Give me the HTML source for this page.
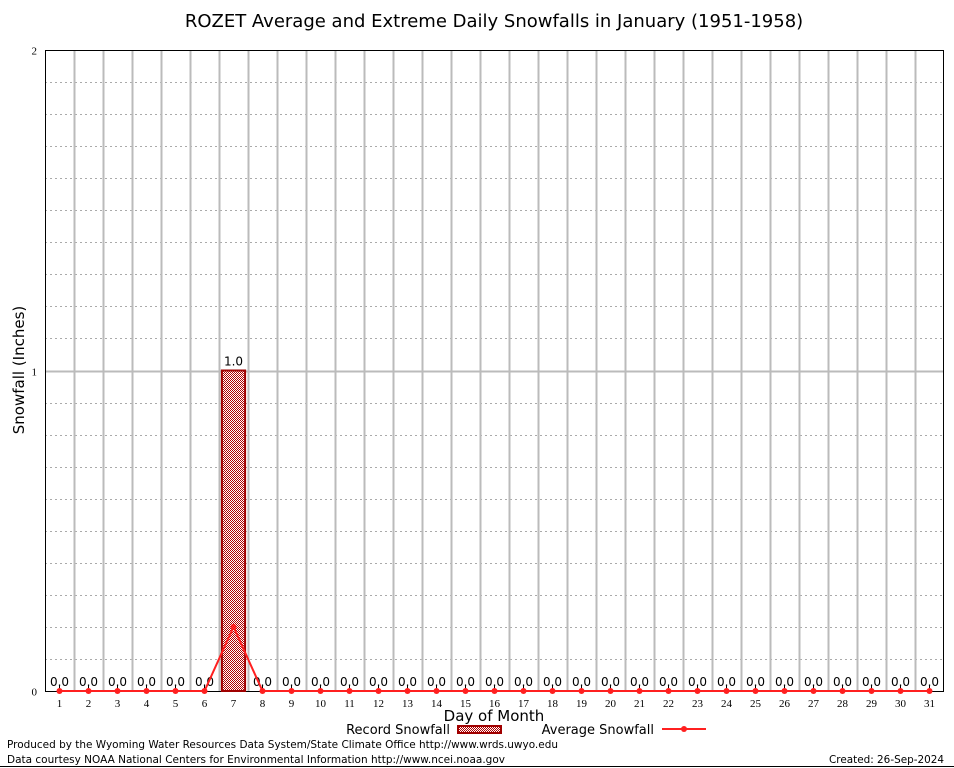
<!DOCTYPE html>
<html><head><meta charset="utf-8"><style>
body{margin:0;background:#fff;}
svg{display:block;font-family:"DejaVu Sans","Liberation Sans",sans-serif;}
</style></head><body>
<svg id="chart" width="954" height="768">
<defs>
<pattern id="chk" width="2" height="2" patternUnits="userSpaceOnUse">
<rect width="2" height="2" fill="#fff"/>
<rect width="1" height="1" fill="#b00000"/>
<rect x="1" y="1" width="1" height="1" fill="#b00000"/>
</pattern>
</defs>
<text x="494" y="27" text-anchor="middle" font-size="18">ROZET Average and Extreme Daily Snowfalls in January (1951-1958)</text>
<g id="grid"></g>
<g id="marks"></g>
<text transform="translate(24,370) rotate(-90)" text-anchor="middle" font-size="15">Snowfall (Inches)</text>
<text x="494" y="721" text-anchor="middle" font-size="15">Day of Month</text>
<g>
<text x="450" y="734" text-anchor="end" font-size="13">Record Snowfall</text>
<rect x="458" y="726" width="43" height="7" fill="url(#chk)" stroke="#a00000" stroke-width="2"/>
<text x="654" y="734" text-anchor="end" font-size="13">Average Snowfall</text>
<line x1="662" y1="729" x2="706" y2="729" stroke="#ff2020" stroke-width="2"/>
<circle cx="684" cy="729" r="3" fill="#ff2020"/>
</g>
<text x="7" y="748" font-size="11" textLength="551" lengthAdjust="spacingAndGlyphs">Produced by the Wyoming Water Resources Data System/State Climate Office http://www.wrds.uwyo.edu</text>
<text x="7" y="763" font-size="11" textLength="498" lengthAdjust="spacingAndGlyphs">Data courtesy NOAA National Centers for Environmental Information http://www.ncei.noaa.gov</text>
<text x="944" y="763" text-anchor="end" font-size="11" textLength="115" lengthAdjust="spacingAndGlyphs">Created:  26-Sep-2024</text>
<line x1="0" y1="766.5" x2="954" y2="766.5" stroke="#000"/>
</svg>
<script>
const days=[1,2,3,4,5,6,7,8,9,10,11,12,13,14,15,16,17,18,19,20,21,22,23,24,25,26,27,28,29,30,31];
const recordSnow=[0,0,0,0,0,0,1.0,0,0,0,0,0,0,0,0,0,0,0,0,0,0,0,0,0,0,0,0,0,0,0,0];
const avgSnow=[0,0,0,0,0,0,0.2,0,0,0,0,0,0,0,0,0,0,0,0,0,0,0,0,0,0,0,0,0,0,0,0];
const yTicks=[0,1,2];
const L=45,R=944,T=50,B=691,yMax=2;
const X=d=>L+(d-0.5)*(R-L)/31;
const Y=v=>B-v*(B-T)/yMax;
const NS="http://www.w3.org/2000/svg";
function mk(p,tag,attrs){const e=document.createElementNS(NS,tag);for(const k in attrs)e.setAttribute(k,attrs[k]);p.appendChild(e);return e;}
const g=document.getElementById('grid'),m=document.getElementById('marks');
for(let i=1;i<20;i++){if(i%10===0)continue;const y=Math.round(Y(i*0.1))+0.5;
 const l=mk(g,'line',{x1:L,x2:R,y1:y,y2:y,stroke:'#aaa','stroke-dasharray':'2,3'});
 
 }
for(let d=1;d<31;d++){const x=Math.round(X(d+0.5))+0.5;
 const l=mk(g,'line',{x1:x,x2:x,y1:T,y2:B,stroke:'#bbb','stroke-width':2});
 
 }
yTicks.forEach(v=>{const y=Math.round(Y(v))+0.5;
 if(v>0&&v<yMax){const l=mk(g,'line',{x1:L,x2:R,y1:y,y2:y,stroke:'#bbb','stroke-width':2});
 
 }
 const t=mk(g,'text',{x:L-8,y:y+4,'text-anchor':'end','font-size':11,'font-family':'Liberation Serif,serif'});t.textContent=v;
 
 });
const fr=mk(g,'rect',{x:L+0.5,y:T+0.5,width:R-L-1,height:B-T,fill:'none',stroke:'#000'});


days.forEach((d,i)=>{const x=X(d);
 const tk=mk(g,'line',{x1:x,x2:x,y1:B,y2:B-5,stroke:'#000'});
 
 
 const t=mk(g,'text',{x:x,y:B+16,'text-anchor':'middle','font-size':11,'font-family':'Liberation Serif,serif'});t.textContent=d;
 
 
 const v=recordSnow[i],w=(R-L)/31*0.8;
 if(v>0){const b=mk(m,'rect',{x:x-w/2,y:Y(v),width:w,height:B-Y(v),fill:'url(#chk)',stroke:'#a00000','stroke-width':2});
 
 }
 const lb=mk(m,'text',{x:x,y:Y(v)-5,'text-anchor':'middle','font-size':12});lb.textContent=v.toFixed(1);
 
 });
const pl=mk(m,'polyline',{points:days.map((d,i)=>X(d)+','+Y(avgSnow[i])).join(' '),fill:'none',stroke:'#ff2020','stroke-width':2});


days.forEach((d,i)=>{const c=mk(m,'circle',{cx:X(d),cy:Y(avgSnow[i]),r:3,fill:'#ff2020'});
 
 });
</script>
</body></html>
